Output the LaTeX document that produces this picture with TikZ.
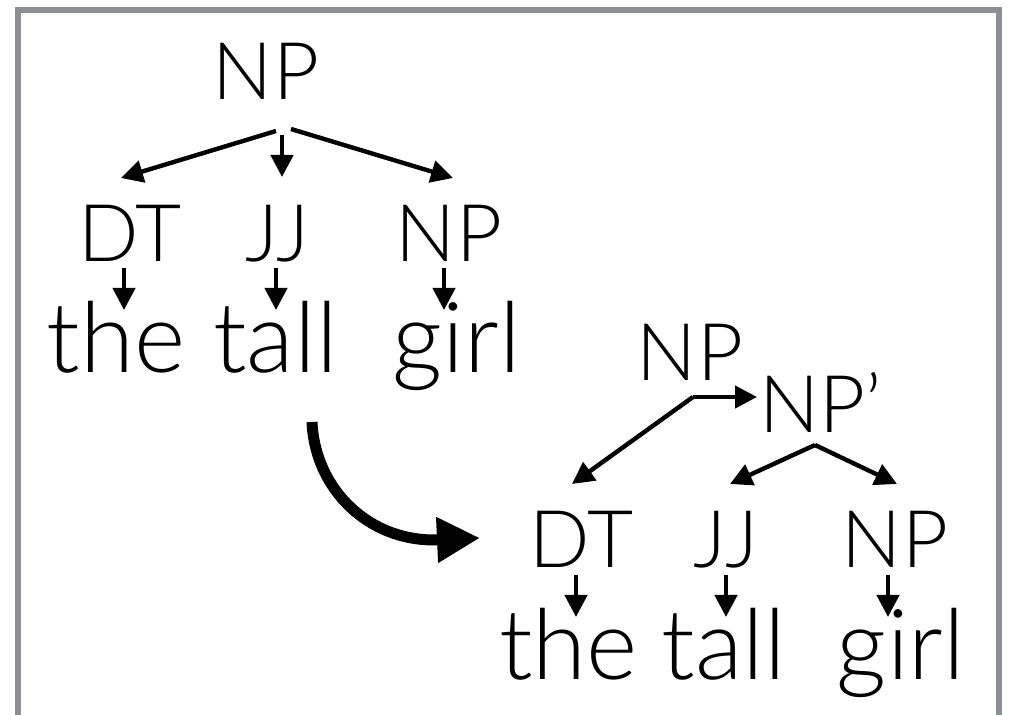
\documentclass[tikz,border=0pt]{standalone}
\usepackage{fontspec}
\IfFontExistsTF{Lato Light}{\setmainfont{Lato Light}}{\setmainfont{TeX Gyre Heros}}
\usepackage{tikz}
\usetikzlibrary{arrows.meta,calc}

\definecolor{framegray}{RGB}{140,144,148}

\begin{document}
\begin{tikzpicture}
  [ x=0.5pt, y=-0.5pt
  , tag/.style={inner sep=0pt, anchor=base, font=\fontsize{39.8pt}{48pt}\selectfont}
  , word/.style={inner sep=0pt, anchor=base, font=\fontsize{49pt}{58pt}\selectfont}
  , edge/.style={line width=2.2pt, -{Triangle[length=11pt,width=11pt]}}
  , rewrite/.style={line width=5.5pt, -{Triangle[length=21.5pt,width=21.5pt]}}]
  \useasboundingbox (0,0) rectangle (1014,715);
  \draw [framegray, line width=3pt] (18,10.5) rectangle (999,760);
  % left tree
  \node (np) at (266,100) [tag] {NP};
  \node (dt) at (130,262) [tag] {DT};
  \node (jj) at (277.5,262) [tag] {JJ};
  \node (np2) at (449,262) [tag] {NP};
  \node (the) at (116,373) [word] {the};
  \node (tall) at (275.5,373) [word] {tall};
  \node (girl) at (456.5,373) [word] {girl};
  \draw [edge] ($(np.base)+(10,31)$) -- ($(dt.base)+(-9,-84)$);
  \draw [edge] ($(np.base)+(16,35)$) -- ($(jj.base)+(4.5,-85)$);
  \draw [edge] ($(np.base)+(25,29)$) -- ($(np2.base)+(4,-84)$);
  \draw [edge] ($(dt.base)+(-6,6)$) -- ($(the.base)+(8,-63)$);
  \draw [edge] ($(jj.base)+(-1.5,6)$) -- ($(tall.base)+(0.5,-63)$);
  \draw [edge] ($(np2.base)+(-5,6)$) -- ($(girl.base)+(-12.5,-63)$);
  % right tree
  \node (rnp) at (690,381) [tag] {NP};
  \node (rnpp) at (821,433) [tag] {NP'};
  \node (rdt) at (581.5,568) [tag] {DT};
  \node (rjj) at (726,568) [tag] {JJ};
  \node (rnp2) at (895,568) [tag] {NP};
  \node (rthe) at (568.5,680) [word] {the};
  \node (rtall) at (724,680) [word] {tall};
  \node (rgirl) at (901,680) [word] {girl};
  \draw [edge] ($(rnp.base)+(3,16)$) -- ($(rnpp.base)+(-64,-36)$);
  \draw [edge] ($(rnp.base)+(3,16)$) -- ($(rdt.base)+(-9.5,-84)$);
  \draw [edge] ($(rnpp.base)+(-6,12)$) -- ($(rjj.base)+(4,-84)$);
  \draw [edge] ($(rnpp.base)+(-6,12)$) -- ($(rnp2.base)+(2,-84)$);
  \draw [edge] ($(rdt.base)+(-5.5,7)$) -- ($(rthe.base)+(7.5,-63)$);
  \draw [edge] ($(rjj.base)+(0,7)$) -- ($(rtall.base)+(2,-63)$);
  \draw [edge] ($(rnp2.base)+(-7,7)$) -- ($(rgirl.base)+(-13,-63)$);
  % rewrite arrow
  \coordinate (bendfrom) at (312,422);
  \coordinate (bendto) at (480,538);
  \draw [rewrite] (bendfrom) .. controls (315,490) and (370,543) .. (bendto);
\end{tikzpicture}
\end{document}
